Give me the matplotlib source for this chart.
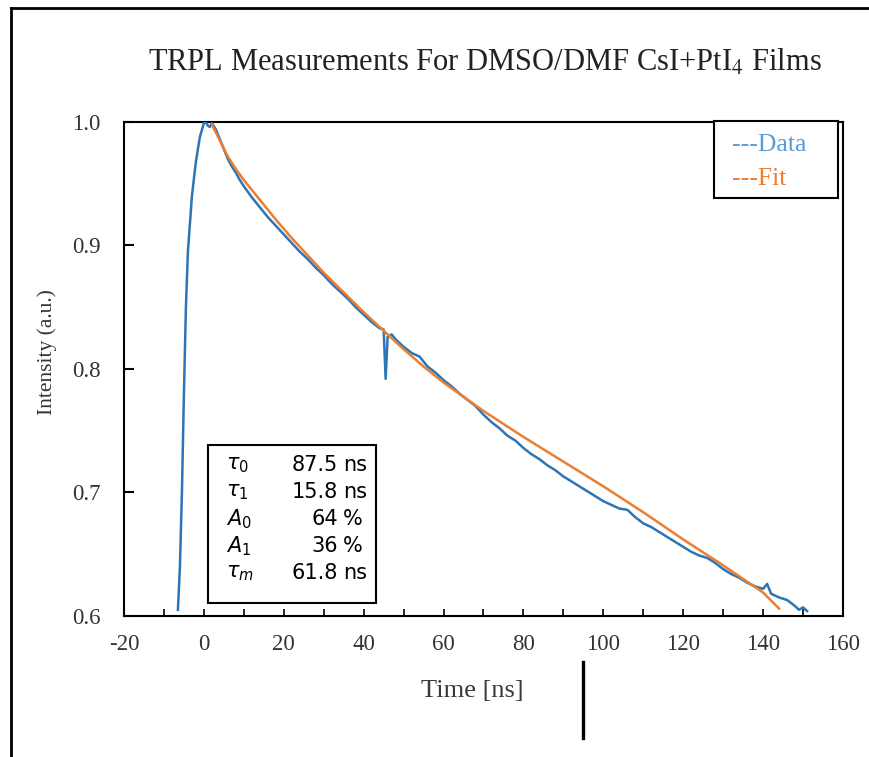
import matplotlib.pyplot as plt
from matplotlib.lines import Line2D
from matplotlib.patches import Rectangle
from matplotlib.ticker import MultipleLocator

plt.rcParams['axes.unicode_minus'] = False

# measured TRPL trace (time in ns, normalised intensity)
t_data = [-6.5, -6.0, -5.5, -5.0, -4.5, -4.0, -3.0, -2.0, -1.0, 0.0, 0.5, 1.0, 1.5, 2.0,
          3, 4, 5, 6, 7, 8, 9, 10, 12, 14, 16, 18, 20, 22, 24, 26, 28, 30, 32, 34, 36,
          38, 40, 42, 44, 45, 45.5, 46, 47, 48, 50, 52, 54, 56, 58, 60, 62, 64, 66, 68,
          70, 72, 74, 76, 78, 80, 82, 84, 86, 88, 90, 92, 94, 96, 98, 100, 102, 104,
          106, 108, 110, 112, 114, 116, 118, 120, 122, 124, 126, 128, 130, 132, 134,
          136, 138, 140, 141, 142, 144, 146, 148, 149, 150, 151]
i_data = [0.605, 0.64, 0.70, 0.78, 0.85, 0.895, 0.94, 0.968, 0.988, 0.999, 1.0, 0.997,
          0.996, 0.999, 0.994, 0.986, 0.978, 0.970, 0.964, 0.959, 0.953, 0.948, 0.939,
          0.931, 0.923, 0.916, 0.909, 0.902, 0.895, 0.889, 0.882, 0.876, 0.869, 0.863,
          0.857, 0.850, 0.844, 0.838, 0.833, 0.832, 0.792, 0.826, 0.828, 0.824, 0.818,
          0.813, 0.810, 0.802, 0.797, 0.791, 0.786, 0.780, 0.775, 0.770, 0.763, 0.757,
          0.752, 0.746, 0.742, 0.736, 0.731, 0.727, 0.722, 0.718, 0.713, 0.709, 0.705,
          0.701, 0.697, 0.693, 0.690, 0.687, 0.686, 0.680, 0.675, 0.672, 0.668, 0.664,
          0.660, 0.656, 0.652, 0.649, 0.647, 0.643, 0.638, 0.634, 0.631, 0.627, 0.624,
          0.622, 0.626, 0.618, 0.615, 0.613, 0.608, 0.605, 0.607, 0.604]

# biexponential fit curve
t_fit = [2, 4, 6, 8, 10, 14, 18, 22, 26, 30, 35, 40, 45, 50, 55, 60, 70, 80, 90, 100,
         110, 120, 130, 140, 144]
i_fit = [0.998, 0.985, 0.972, 0.962, 0.953, 0.937, 0.921, 0.906, 0.892, 0.878, 0.862,
         0.846, 0.831, 0.816, 0.802, 0.789, 0.766, 0.745, 0.725, 0.705, 0.684, 0.662,
         0.641, 0.619, 0.606]

# fit parameters
par_names = [r'$\tau_0$', r'$\tau_1$', r'$A_0$', r'$A_1$', r'$\tau_m$']
par_values = ['87.5', '15.8', '64', '36', '61.8']
par_units = ['ns', 'ns', '%', '%', 'ns']

W, H = 870, 757
BLUE = '#2e75b6'
ORANGE = '#ed7d31'
SERIF = ['Liberation Serif', 'DejaVu Serif']


def fx(x):
    return x / W


def fy(y):
    return 1 - y / H


fig = plt.figure(figsize=(W / 100, H / 100), dpi=100)
ax = fig.add_axes([fx(124), fy(616), fx(843) - fx(124), fy(122) - fy(616)])

ax.plot(t_data, i_data, color=BLUE, lw=1.8, zorder=3)
ax.plot(t_fit, i_fit, color=ORANGE, lw=1.8, zorder=4)

ax.set_xlim(-20, 160)
ax.set_ylim(0.6, 1.0)
ax.xaxis.set_major_locator(MultipleLocator(20))
ax.xaxis.set_minor_locator(MultipleLocator(10))
ax.yaxis.set_major_locator(MultipleLocator(0.1))
ax.yaxis.set_major_formatter(plt.FormatStrFormatter('%.1f'))

for s in ax.spines.values():
    s.set_linewidth(1.5)

ax.tick_params(axis='x', which='both', direction='in', length=5, width=1.2,
               pad=13, labelsize=16.5, top=False)
ax.tick_params(axis='y', direction='in', length=7, width=1.5, pad=17,
               labelsize=16.5, right=False)
for lab in ax.get_xticklabels() + ax.get_yticklabels():
    lab.set_family(SERIF)
    lab.set_color('#333333')

ax.set_ylabel('Intensity (a.u.)', family=SERIF, fontsize=15.5, color='#333333')
ax.yaxis.set_label_coords(-0.093, 0.535)

fig.text(fx(485), fy(63), r'TRPL Measurements For DMSO/DMF CsI+PtI$_4$ Films',
         family=SERIF, fontsize=22, ha='center', va='center', color='#222222',
         math_fontfamily='stix')
fig.text(fx(472), fy(691), 'Time [ns]', family=SERIF, fontsize=19,
         ha='center', va='center', color='#3a3a3a')

# legend box
fig.patches.append(Rectangle((fx(714), fy(198)), fx(838) - fx(714), fy(121) - fy(198),
                             transform=fig.transFigure, fill=True, fc='white',
                             ec='black', lw=1.5, zorder=5))
fig.text(fx(732), fy(145), '---Data', family=SERIF, fontsize=18.5, color='#5b9bd5',
         va='center', ha='left', zorder=6)
fig.text(fx(732), fy(179), '---Fit', family=SERIF, fontsize=18.5, color=ORANGE,
         va='center', ha='left', zorder=6)

# parameter table
fig.patches.append(Rectangle((fx(208), fy(603)), fx(376) - fx(208), fy(445) - fy(603),
                             transform=fig.transFigure, fill=True, fc='white',
                             ec='black', lw=1.5, zorder=5))
for k, (n, v, u) in enumerate(zip(par_names, par_values, par_units)):
    yy = fy(465 + 27 * k)
    fig.text(fx(226), yy, n, fontsize=15, va='center', ha='left', zorder=6)
    fig.text(fx(338), yy, v, fontsize=15, va='center', ha='right', zorder=6)
    fig.text(fx(343), yy, u, fontsize=15, va='center', ha='left', zorder=6)

# frame lines and marker bar
fig.add_artist(Line2D([fx(11), fx(11)], [fy(8), 0], color='black', lw=2))
fig.add_artist(Line2D([fx(11), 1], [fy(8), fy(8)], color='black', lw=2))
fig.add_artist(Line2D([fx(583), fx(583)], [fy(662), fy(738)], color='black', lw=2.4))

fig.savefig('out.png', dpi=100)
